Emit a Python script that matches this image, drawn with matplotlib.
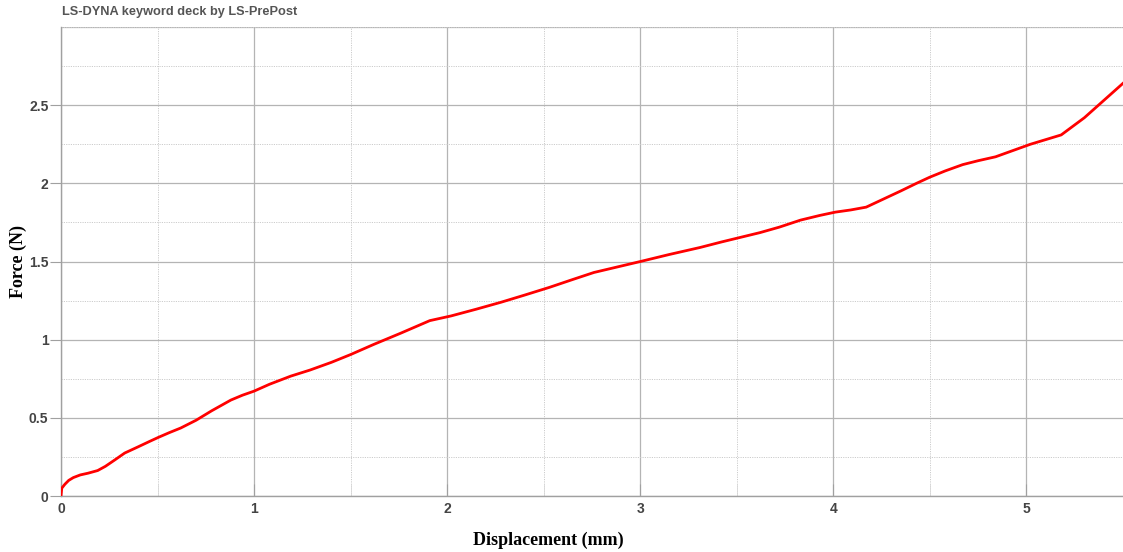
import matplotlib
matplotlib.use("Agg")
import matplotlib.pyplot as plt
from matplotlib.ticker import MultipleLocator

# Force-displacement response
displacement = [0.0, 0.004, 0.02, 0.04, 0.064, 0.10, 0.14, 0.19, 0.23, 0.28, 0.33,
                0.40, 0.46, 0.504, 0.56, 0.62, 0.70, 0.78, 0.88, 0.94, 1.0,
                1.08, 1.19, 1.29, 1.40, 1.50, 1.62, 1.76, 1.91, 2.02, 2.15,
                2.28, 2.40, 2.53, 2.65, 2.76, 2.88, 3.0, 3.15, 3.31, 3.42,
                3.52, 3.62, 3.72, 3.83, 3.93, 4.01, 4.09, 4.17, 4.26, 4.35,
                4.43, 4.50, 4.58, 4.67, 4.75, 4.84, 4.93, 5.02, 5.10, 5.18,
                5.30, 5.40, 5.50]
force = [0.0, 0.05, 0.075, 0.10, 0.118, 0.135, 0.146, 0.163, 0.19, 0.232, 0.275,
         0.315, 0.35, 0.375, 0.405, 0.435, 0.485, 0.545, 0.614, 0.645, 0.671,
         0.715, 0.767, 0.806, 0.855, 0.905, 0.97, 1.042, 1.122, 1.152, 1.195,
         1.24, 1.285, 1.335, 1.385, 1.43, 1.465, 1.50, 1.545, 1.59, 1.625,
         1.655, 1.685, 1.72, 1.765, 1.795, 1.816, 1.83, 1.848, 1.90, 1.952,
         2.00, 2.04, 2.08, 2.12, 2.145, 2.17, 2.21, 2.25, 2.28, 2.31,
         2.42, 2.53, 2.64]

x_ticks = [0, 1, 2, 3, 4, 5]
y_ticks = [0, 0.5, 1, 1.5, 2, 2.5]
y_tick_labels = ["0", "0.5", "1", "1.5", "2", "2.5"]

fig = plt.figure(figsize=(11.23, 5.52), dpi=100)
ax = fig.add_axes([0.0543, 0.1014, 0.9457, 0.8496])

ax.plot(displacement, force, color="#ff0000", lw=2.0, solid_joinstyle="round", zorder=3)

ax.set_xlim(0, 5.5)
ax.set_ylim(0, 3.0)
ax.set_xticks(x_ticks)
ax.set_xticklabels([str(t) for t in x_ticks])
ax.set_yticks(y_ticks)
ax.set_yticklabels(y_tick_labels)
ax.xaxis.set_minor_locator(MultipleLocator(0.5))
ax.yaxis.set_minor_locator(MultipleLocator(0.25))

grid_col = "#b4b4b4"
ax.grid(which="major", color=grid_col, lw=0.9, ls="-")
ax.grid(which="minor", color="#cccccc", lw=0.7, ls=(0, (1.2, 1.2)))
ax.axhline(3.0, color=grid_col, lw=0.9, zorder=1)

for side in ["top", "right"]:
    ax.spines[side].set_visible(False)
for side in ["left", "bottom"]:
    ax.spines[side].set_color("#a0a0a0")
    ax.spines[side].set_linewidth(1.0)

ax.tick_params(axis="x", which="major", direction="in", length=9, color="#a0a0a0",
               labelcolor="#444444", pad=4)
ax.tick_params(axis="x", which="minor", direction="in", length=9, color="#d8d8d8")
ax.tick_params(axis="y", which="major", direction="out", length=8, color="#a0a0a0",
               labelcolor="#444444", pad=1)
ax.tick_params(axis="y", which="minor", length=0)
for lab in ax.get_xticklabels() + ax.get_yticklabels():
    lab.set_family("Liberation Sans")
    lab.set_fontsize(10)
    lab.set_fontweight("bold")

fig.text(548 / 1123, 1 - 540 / 552, "Displacement (mm)", family="Liberation Serif",
         weight="bold", size=13, color="black", ha="center", va="center")
fig.text(18 / 1123, 1 - 262 / 552, "Force (N)", family="Liberation Serif",
         weight="bold", size=13, color="black", ha="center", va="center", rotation=90)

fig.text(0.0552, 1 - 12 / 552, "LS-DYNA keyword deck by LS-PrePost", family="Liberation Sans",
         weight="bold", size=9.2, color="#555555", ha="left", va="center")

fig.savefig("out.png", dpi=100)
